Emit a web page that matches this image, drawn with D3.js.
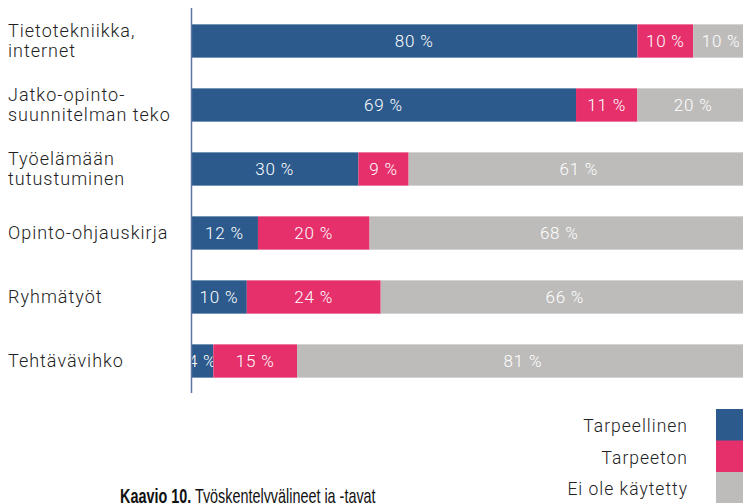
<!DOCTYPE html>
<html>
<head>
<meta charset="utf-8">
<script src="https://cdn.jsdelivr.net/npm/d3@7"></script>
<style>
  body { margin: 0; background: #fff; }
  svg { display: block; font-family: Roboto, sans-serif; }
  .cat { fill: #222; font-size: 18px; font-weight: 300; letter-spacing: 1px; }
  .val { fill: #fff; font-size: 17px; font-weight: 300; letter-spacing: 0.8px; }
  .leg { fill: #222; font-size: 17.5px; font-weight: 300; letter-spacing: 1px; }
</style>
</head>
<body>
<div id="svg"></div>
<script>
var categories = [
  ["Tietotekniikka,", "internet"],
  ["Jatko-opinto-", "suunnitelman teko"],
  ["Työelämään", "tutustuminen"],
  ["Opinto-ohjauskirja"],
  ["Ryhmätyöt"],
  ["Tehtävävihko"]
];
var seriesNames = ["Tarpeellinen", "Tarpeeton", "Ei ole käytetty"];
var tarpeellinen = [80, 69, 30, 12, 10, 4];
var tarpeeton = [10, 11, 9, 20, 24, 15];
var eiKaytetty = [10, 20, 61, 68, 66, 81];
var colors = ["#2c5a8d", "#e5306b", "#bdbcba"];

var width = 743, height = 503,
    margin = {left: 191, top: 9};

var rows = categories.map(function(c, i) {
  return {i: i, lines: c, values: [tarpeellinen[i], tarpeeton[i], eiKaytetty[i]]};
});

var svg = d3.select('#svg').append('svg')
  .attr('width', width)
  .attr('height', height);

var x = d3.scaleLinear().domain([0, 100]).range([margin.left, margin.left + 558]);
var y = d3.scaleBand().domain(d3.range(categories.length))
  .range([margin.top, margin.top + 384])
  .paddingInner(0.48).paddingOuter(0.24);

var stack = d3.stack().keys([0, 1, 2]).value(function(d, k) { return d.values[k]; });
var series = stack(rows);

var layer = svg.selectAll('.layer')
  .data(series)
  .enter().append('g')
  .attr('class', 'layer')
  .attr('fill', function(d, k) { return colors[k]; });

layer.selectAll('rect')
  .data(function(d) { return d; })
  .enter().append('rect')
  .attr('x', function(d) { return x(d[0]); })
  .attr('width', function(d) { return x(d[1]) - x(d[0]); })
  .attr('y', function(d) { return y(d.data.i); })
  .attr('height', y.bandwidth());

layer.selectAll('.val')
  .data(function(d) { return d; })
  .enter().append('text')
  .attr('class', 'val')
  .attr('x', function(d) { return (x(d[0]) + x(d[1])) / 2; })
  .attr('y', function(d) { return y(d.data.i) + y.bandwidth() / 2; })
  .attr('dy', '0.35em')
  .attr('text-anchor', 'middle')
  .text(function(d) { return (d[1] - d[0]) + ' %'; });

// category labels
var cat = svg.selectAll('.cat')
  .data(rows)
  .enter().append('text')
  .attr('class', 'cat')
  .attr('x', 8)
  .attr('y', function(d) { return y(d.i) + y.bandwidth() / 2; });
cat.selectAll('tspan')
  .data(function(d) { return d.lines.map(function(l, j) { return {l: l, j: j, n: d.lines.length}; }); })
  .enter().append('tspan')
  .attr('x', 8)
  .attr('dy', function(t) { return t.j === 0 ? (t.n === 1 ? '0.35em' : '-0.2em') : '1.1em'; })
  .text(function(t) { return t.l; });

// axis line
svg.append('line')
  .attr('x1', margin.left + 0.5).attr('x2', margin.left + 0.5)
  .attr('y1', margin.top - 1).attr('y2', margin.top + 384)
  .attr('stroke', '#5b77a3')
  .attr('stroke-width', 1.5);

// legend
var leg = svg.selectAll('.legitem')
  .data(seriesNames)
  .enter().append('g')
  .attr('class', 'legitem')
  .attr('transform', function(d, k) { return 'translate(0,' + (409 + k * 31.5) + ')'; });
leg.append('rect')
  .attr('x', 716).attr('width', 30).attr('height', 32)
  .attr('fill', function(d, k) { return colors[k]; });
leg.append('text')
  .attr('class', 'leg')
  .attr('x', 688).attr('y', 17).attr('dy', '0.35em')
  .attr('text-anchor', 'end')
  .text(function(d) { return d; });

// caption (narrowed, cut at bottom edge like the source)
var cap = svg.append('text')
  .attr('transform', 'translate(120,503) scale(0.72,1)')
  .attr('font-family', '"Liberation Sans", Arial, sans-serif')
  .attr('font-size', 20).attr('fill', '#111');
cap.append('tspan').attr('font-weight', 700).text('Kaavio 10.');
cap.append('tspan').attr('font-weight', 400).text(' Työskentelyvälineet ja -tavat');
</script>
</body>
</html>
